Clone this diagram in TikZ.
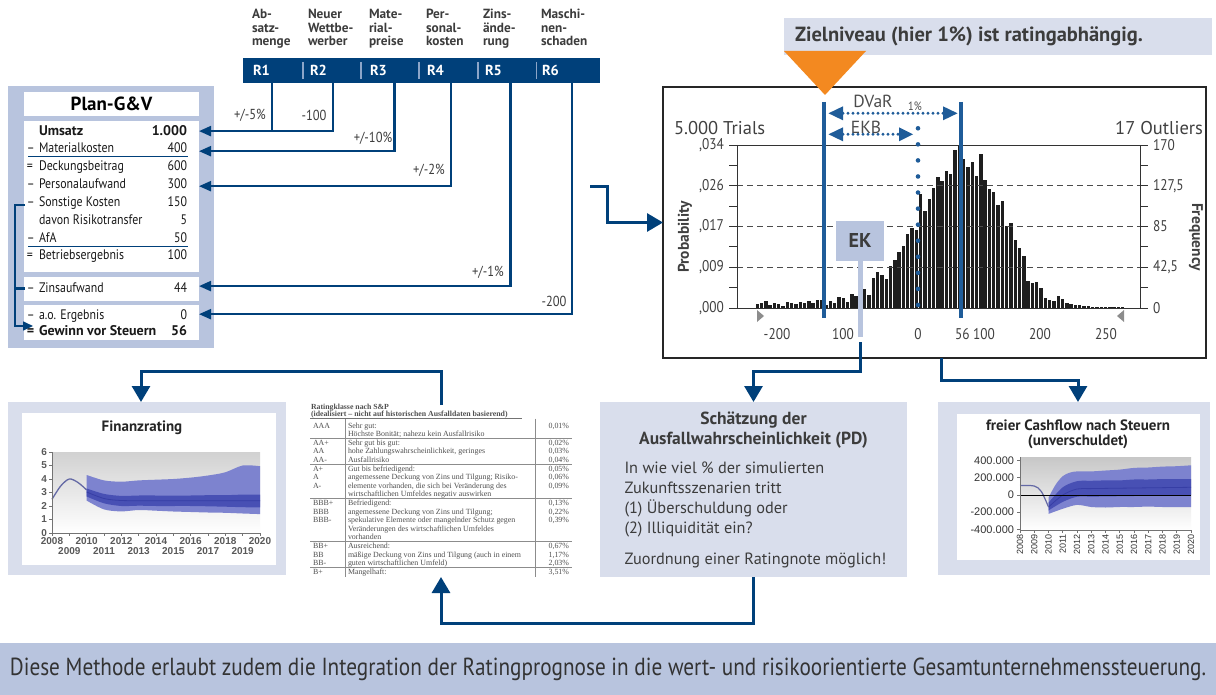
\documentclass[tikz,border=0pt]{standalone}
\usepackage{fontspec}
\setmainfont{PT Sans}
\newfontfamily\cond{PT Sans}[FakeStretch=0.86]
\newfontfamily\serifft{Liberation Serif}
\newfontfamily\arialft{Liberation Sans}
\usetikzlibrary{arrows.meta}
\definecolor{navy}{RGB}{0,64,122}
\definecolor{panelA}{RGB}{184,196,222}
\definecolor{panelB}{RGB}{217,222,236}
\definecolor{orng}{RGB}{243,137,32}
\definecolor{lblue}{RGB}{31,92,153}
\definecolor{txt}{RGB}{60,60,60}
\definecolor{sepc}{RGB}{140,165,200}
\definecolor{bandA}{RGB}{125,131,207}
\definecolor{bandB}{RGB}{72,80,180}
\definecolor{medl}{RGB}{55,62,165}
\definecolor{histbar}{RGB}{30,30,30}
\definecolor{tabtxt}{RGB}{80,80,80}
\newcommand{\fsz}[2]{\fontsize{#1}{#2}\selectfont}
\tikzset{
  pconn/.style={navy, line width=2.2pt, -{Triangle[length=12pt,width=10pt]}},
  plainconn/.style={navy, line width=2.2pt},
  bigconn/.style={navy, line width=3pt, -{Triangle[length=16pt,width=18pt]}},
  toplab/.style={anchor=north west, align=left, font=\bfseries\fsz{13.3}{13.3}, text=txt},
  rlab/.style={anchor=west, font=\bfseries\fsz{14.5}{15}, text=white},
  rowl/.style={anchor=base west, font=\cond\fsz{13.8}{15}, text=black!90},
  rowv/.style={anchor=base east, font=\cond\fsz{13.8}{15}, text=black!90},
  rowp/.style={anchor=base west, font=\cond\fsz{13.8}{15}, text=black!90},
  rowb/.style={font=\bfseries\fsz{14}{15}},
  clab/.style={font=\cond\fsz{14.5}{15}, text=txt},
  axl/.style={font=\cond\fsz{15.5}{16}, text=black!75},
  tabt/.style={anchor=base west, font=\serifft\fsz{7.9}{8}, text=tabtxt},
  tabp/.style={anchor=base east, font=\serifft\fsz{7.9}{8}, text=tabtxt},
  smallax/.style={font=\arialft\fsz{9}{10}, text=black!65},
}
\begin{document}
\begin{tikzpicture}[x=1pt,y=-1pt,every node/.style={inner sep=0pt,outer sep=0pt}]
\useasboundingbox (0,0) rectangle (1216,695);

% ---------------- risk header -----------------
\node[toplab] (lab1) at (252,9.5) {Ab-\\satz-\\menge};
\node[toplab] (lab2) at (308,9.5) {Neuer\\Wettbe-\\werber};
\node[toplab] (lab3) at (369,9.5) {Mate-\\rial-\\preise};
\node[toplab] (lab4) at (426,9.5) {Per-\\sonal-\\kosten};
\node[toplab] (lab5) at (483,9.5) {Zins-\\ände-\\rung};
\node[toplab] (lab6) at (541,9.5) {Maschi-\\nen-\\schaden};

\node[fill=navy, minimum width=357pt, minimum height=25pt, anchor=north west] (bar) at (243,58) {};
\foreach \sx in {303,361,419,478,536.5} \draw[sepc, line width=1.3pt] (\sx,62) -- (\sx,79);
\node[rlab] (rl1) at (253,70) {R1};
\node[rlab] (rl2) at (310,70) {R2};
\node[rlab] (rl3) at (370,70) {R3};
\node[rlab] (rl4) at (427,70) {R4};
\node[rlab] (rl5) at (485,70) {R5};
\node[rlab] (rl6) at (542,70) {R6};

% ---------------- Plan G&V -----------------
\node[fill=panelA, minimum width=206pt, minimum height=262pt, anchor=north west] (plan) at (8,86) {};
\node[fill=white, minimum width=175pt, minimum height=24pt, anchor=north west] (plantitle) at (24,92) {};
\node[font=\bfseries\fsz{19}{20}, text=black] (plantitletxt) at (plantitle.center) {Plan-G\&V};
\node[fill=white, minimum width=175pt, minimum height=151pt, anchor=north west] (main) at (24,121) {};
\node[fill=white, minimum width=175pt, minimum height=24pt, anchor=north west] (zinsbox) at (24,277) {};
\node[fill=white, minimum width=175pt, minimum height=35pt, anchor=north west] (lastbox) at (24,305) {};

\node[rowl, rowb] (umsl) at (39,136) {Umsatz};
\node[rowv, rowb] (umsv) at (187,136) {1.000};
\node[rowp] (matp) at (27,153) {–};
\node[rowl] (matl) at (39,153) {Materialkosten};
\node[rowv] (matv) at (187,153) {400};
\draw[navy, line width=1.2pt] (28,156.7) -- (188,156.7);
\node[rowp] (dbp) at (27,171) {=};
\node[rowl] (dbl) at (39,171) {Deckungsbeitrag};
\node[rowv] (dbv) at (187,171) {600};
\node[rowp] (perp) at (27,189) {–};
\node[rowl] (perl) at (39,189) {Personalaufwand};
\node[rowv] (perv) at (187,189) {300};
\node[rowp] (sonp) at (27,207) {–};
\node[rowl] (sonl) at (39,207) {Sonstige Kosten};
\node[rowv] (sonv) at (187,207) {150};
\node[rowl] (davl) at (39,225) {davon Risikotransfer};
\node[rowv] (davv) at (187,225) {5};
\node[rowp] (afap) at (27,243) {–};
\node[rowl] (afal) at (39,243) {AfA};
\node[rowv] (afav) at (187,243) {50};
\draw[navy, line width=1.2pt] (28,246.7) -- (188,246.7);
\node[rowp] (bep) at (27,260) {=};
\node[rowl] (bel) at (39,260) {Betriebsergebnis};
\node[rowv] (bev) at (187,260) {100};
\node[rowp] (zinp) at (27,293) {–};
\node[rowl] (zinl) at (39,293) {Zinsaufwand};
\node[rowv] (zinv) at (187,293) {44};
\node[rowp] (aop) at (27,319) {–};
\node[rowl] (aol) at (39,319) {a.o. Ergebnis};
\node[rowv] (aov) at (187,319) {0};
\node[rowp, rowb] (gewp) at (27,335) {=};
\node[rowl, rowb] (gewl) at (39,335) {Gewinn vor Steuern};
\node[rowv, rowb] (gewv) at (187,335) {56};

% bracket inside plan
\coordinate (brtop) at (25,205);
\coordinate (brx) at (15,0);
\coordinate (brend) at (33,326);
\draw[navy, line width=1.6pt, -{Triangle[length=10pt,width=9pt]}] (brtop) -- (brx |- brtop) -- (brx |- brend) -- (brend);
\draw[navy, line width=3pt] (brx |- zinl) -- ++(10,0);

% connectors R -> plan
\coordinate (c1) at (272,0);
\coordinate (c2) at (333,0);
\coordinate (c3) at (394.5,0);
\coordinate (c4) at (451,0);
\coordinate (c5) at (510.5,0);
\coordinate (c6) at (572,0);
\draw[plainconn] (bar.south -| c1) -- (c1 |- umsv);
\draw[pconn] (bar.south -| c2) |- (main.east |- umsv);
\draw[pconn] (bar.south -| c3) |- ([yshift=-3pt]main.east |- matv);
\draw[pconn] (bar.south -| c4) |- ([yshift=-2pt]main.east |- perv);
\draw[pconn] (bar.south -| c5) |- ([yshift=2pt]zinsbox.east |- zinv);
\draw[pconn] (bar.south -| c6) |- (lastbox.east |- aov);

\node[clab] (l1) at (250,115) {+/-5\%};
\node[clab] (l2) at (314,115) {-100};
\node[clab] (l3) at (373,138) {+/-10\%};
\node[clab] (l4) at (429,170) {+/-2\%};
\node[clab] (l5) at (488,272.5) {+/-1\%};
\node[clab] (l6) at (554,301) {-200};

% ---------------- Zielniveau -----------------
\node[fill=panelB, minimum width=428pt, minimum height=37pt, anchor=north west] (ziel) at (784,18) {};
\node[anchor=west, font=\bfseries\fsz{20.5}{22}, text=txt] (zieltxt) at (795,36.5) {Zielniveau (hier 1\%) ist ratingabhängig.};

% ---------------- histogram -----------------
\node[draw=black!85, line width=1.8pt, minimum width=543pt, minimum height=271pt, anchor=north west] (hist) at (663,87) {};
\foreach \h [count=\i from 0] in {4,5,7,3,5,4,2,6,5,4,6,5,7,5,8,8,3,7,5,11,10,6,14,12,6,19,13,30,36,33,29,42,48,56,62,74,80,78,114,97,109,120,131,127,137,134,158,163,149,141,146,132,154,128,119,116,103,107,82,85,68,60,52,27,25,26,20,10,8,7,12,9,5,4,3,3,2,2,1,1.5,1,1,1,1,1,1}
  \fill[histbar] ({755.5+4.3*\i},308) rectangle ({758.9+4.3*\i},{308-\h});
\foreach \yy in {185.75,226.5,267.25} \draw[black!70, line width=0.9pt, dash pattern=on 6pt off 4pt] (737,\yy) -- (1140,\yy);
\draw[black!80, line width=0.9pt] (729,145) -- (1148,145);
\draw[black!80, line width=0.9pt] (729,308) -- (1148,308);
\draw[black!80, line width=0.9pt] (737,145) -- (737,308);
\draw[black!80, line width=0.9pt] (1140,145) -- (1140,308);
\foreach \k in {1,...,7} {
  \draw[black!80, line width=0.9pt] (729,{145+20.375*\k}) -- (737,{145+20.375*\k});
  \draw[black!80, line width=0.9pt] (1140,{145+20.375*\k}) -- (1148,{145+20.375*\k});
}
\node[axl, anchor=east] (p1) at (724,145) {,034};
\node[axl, anchor=east] (p2) at (724,185.75) {,026};
\node[axl, anchor=east] (p3) at (724,226.5) {,017};
\node[axl, anchor=east] (p4) at (724,267.25) {,009};
\node[axl, anchor=east] (p5) at (724,308) {,000};
\node[axl, anchor=west] (f1) at (1153,145) {170};
\node[axl, anchor=west] (f2) at (1153,185.75) {127,5};
\node[axl, anchor=west] (f3) at (1153,226.5) {85};
\node[axl, anchor=west] (f4) at (1153,267.25) {42,5};
\node[axl, anchor=west] (f5) at (1153,308) {0};
\node[font=\bfseries\fsz{15.5}{16}, text=black!75, rotate=90] (prob) at (685,237) {Probability};
\node[font=\bfseries\fsz{15.5}{16}, text=black!75, rotate=-90] (freq) at (1196,237) {Frequency};
\node[anchor=west, font=\fsz{18.5}{20}, text=black!75] (trials) at (674,128) {5.000 Trials};
\node[anchor=east, font=\fsz{18.5}{20}, text=black!75] (outl) at (1203,128) {17 Outliers};
\node[axl] (x1) at (777,334) {-200};
\node[axl] (x2) at (843,334) {100};
\node[axl] (x3) at (918,334) {0};
\node[axl] (x4) at (975,334) {56 100};
\node[axl] (x5) at (1040,334) {200};
\node[axl] (x6) at (1106,334) {250};
\fill[black!45] (757,310) -- (757,322) -- (764,316) -- cycle;
\fill[black!45] (1124,310) -- (1124,322) -- (1117,316) -- cycle;

% blue limit lines and arrows
\draw[lblue, line width=4pt] (824,102) -- (824,318);
\draw[lblue, line width=4pt] (960.5,102) -- (960.5,318);
\draw[lblue, line width=3.2pt, line cap=round, dash pattern=on 0pt off 5pt] (843,113.3) -- (945,113.3);
\fill[lblue] (828.5,113.3) -- (843,106.3) -- (843,120.3) -- cycle;
\fill[lblue] (957.5,113.3) -- (943,106.3) -- (943,120.3) -- cycle;
\draw[lblue, line width=3.2pt, line cap=round, dash pattern=on 0pt off 5pt] (843,134.3) -- (900,134.3);
\fill[lblue] (828.5,134.3) -- (843,127.3) -- (843,141.3) -- cycle;
\fill[lblue] (913,134.3) -- (899,127.3) -- (899,141.3) -- cycle;
\draw[lblue, line width=4.6pt, line cap=round, dash pattern=on 0pt off 16.06pt] (918,128.3) -- (918,305);
\node[font=\fsz{17.5}{18}, text=black!70] (dvar) at (873,101) {DVaR};
\node[font=\fsz{17.5}{18}, text=black!70] (ekb) at (866,127.5) {EKB};
\node[font=\cond\fsz{12}{12}, text=black!70] (pct) at (915,106) {1\%};

% EK marker
\node[fill=panelA, minimum width=48pt, minimum height=40pt, font=\bfseries\fsz{20}{20}, text=txt] (ek) at (860,241) {EK};
\draw[panelA, line width=5pt] (ek.south) -- ++(0,76);

% orange triangle (on top of frame)
\fill[orng] (784,51) -- (866,51) -- (825,95) -- cycle;

% ---------------- lower panels -----------------
\node[fill=panelB, minimum width=278pt, minimum height=173pt, anchor=north west] (fin) at (8,402) {};
\node[fill=white, minimum width=254pt, minimum height=152pt, anchor=north west] (fininner) at (22,413) {};
\node[font=\bfseries\fsz{15}{15}, text=black!85] (fintitle) at (142,428) {Finanzrating};
\shade[top color=black!18, bottom color=white] (52,452) rectangle (260,533);
% finanzrating bands
\fill[bandA] plot[smooth] coordinates {(86.7,475) (104,480.4) (121.3,481.7) (138.7,480.4) (156,479.7) (173.3,479) (190.7,477.6) (208,475.5) (225.3,472.3) (242.7,465.5) (260,466.2)}
  -- plot[smooth] coordinates {(260,514.1) (242.7,513.5) (225.3,512.8) (208,512.5) (190.7,512) (173.3,511.5) (156,510.7) (138.7,510) (121.3,511.4) (104,509.4) (86.7,500.6)} -- cycle;
\fill[bandB] plot[smooth] coordinates {(86.7,488.5) (104,493.9) (121.3,495.9) (138.7,495.5) (156,495.5) (173.3,495.5) (190.7,495.5) (208,495.2) (225.3,495.2) (242.7,494.6) (260,494.6)}
  -- plot[smooth] coordinates {(260,507.4) (242.7,507.2) (225.3,506.7) (208,506.3) (190.7,506) (173.3,506) (156,506) (138.7,505.7) (121.3,506) (104,503.3) (86.7,496.5)} -- cycle;
\draw[medl, line width=0.8pt] plot[smooth] coordinates {(86.7,492) (104,498.5) (121.3,500.5) (156,500.8) (208,500.8) (260,500.8)};
\draw[bandA!80!black, line width=1.3pt] plot[smooth] coordinates {(52,499.3) (60.7,486) (69.3,479) (78,482.5) (86.7,490)};
\draw[black!55, line width=0.8pt] (52,452) -- (52,533) -- (260,533);
\foreach \v in {0,...,6} {
  \draw[black!55, line width=0.8pt] (49,{533-13.5*\v}) -- (52,{533-13.5*\v});
  \node[smallax, font=\arialft\bfseries\fsz{10}{10}, anchor=east] (fy\v) at (47,{533-13.5*\v}) {\v};
}
\foreach \t in {0,...,12} \draw[black!55, line width=0.8pt] ({52+17.33*\t},533) -- ({52+17.33*\t},536);
\foreach \t/\yr in {0/2008,2/2010,4/2012,6/2014,8/2016,10/2018,12/2020}
  \node[smallax, font=\arialft\bfseries\fsz{10}{10}] (fx\yr) at ({52+17.33*\t},541.5) {\yr};
\foreach \t/\yr in {1/2009,3/2011,5/2013,7/2015,9/2017,11/2019}
  \node[smallax, font=\arialft\bfseries\fsz{10}{10}] (fx\yr) at ({52+17.33*\t},551.5) {\yr};

% rating table
\node[fill=white, minimum width=262pt, minimum height=172pt, anchor=north west] (tab) at (310,405) {};
\node[tabt, font=\serifft\bfseries\fsz{7.8}{8}] (th1) at (311,409.5) {Ratingklasse nach S\&P};
\node[tabt, font=\serifft\bfseries\fsz{7.8}{8}] (th2) at (311,416) {(idealisiert – nicht auf historischen Ausfalldaten basierend)};
\draw[black!55, line width=0.8pt] (310,418.5) -- (522,418.5);
\foreach \yy in {438.8,464.2,498.6,541.6,567.4} \draw[black!45, line width=0.7pt] (310,\yy) -- (572,\yy);
\draw[black!45, line width=0.7pt] (345,418.5) -- (345,577);
\draw[black!45, line width=0.7pt] (535,418.5) -- (535,577);
\foreach \i/\c/\d/\p in {0/AAA/{Sehr gut:}/{0,01\%},
  1/{}/{Höchste Bonität; nahezu kein Ausfallrisiko}/{},
  2/AA+/{Sehr gut bis gut:}/{0,02\%},
  3/AA/{hohe Zahlungswahrscheinlichkeit, geringes}/{0,03\%},
  4/AA-/{Ausfallrisiko}/{0,04\%},
  5/A+/{Gut bis befriedigend:}/{0,05\%},
  6/A/{angemessene Deckung von Zins und Tilgung; Risiko-}/{0,06\%},
  7/A-/{elemente vorhanden, die sich bei Veränderung des}/{0,09\%},
  8/{}/{wirtschaftlichen Umfeldes negativ auswirken}/{},
  9/BBB+/{Befriedigend:}/{0,13\%},
  10/BBB/{angemessene Deckung von Zins und Tilgung;}/{0,22\%},
  11/BBB-/{spekulative Elemente oder mangelnder Schutz gegen}/{0,39\%},
  12/{}/{Veränderungen des wirtschaftlichen Umfeldes}/{},
  13/{}/{vorhanden}/{},
  14/BB+/{Ausreichend:}/{0,67\%},
  15/BB/{mäßige Deckung von Zins und Tilgung (auch in einem}/{1,17\%},
  16/BB-/{guten wirtschaftlichen Umfeld)}/{2,03\%},
  17/B+/{Mangelhaft:}/{3,51\%}} {
  \node[tabt] (tc\i) at (313,{428+8.6*\i}) {\c};
  \node[tabt] (td\i) at (348,{428+8.6*\i}) {\d};
  \node[tabp] (tp\i) at (569,{428+8.6*\i}) {\p};
}

% PD box
\node[fill=panelB, minimum width=307pt, minimum height=175pt, anchor=north west] (pd) at (600,402) {};
\node[font=\bfseries\fsz{17.5}{20}, text=txt, align=center] (pdtitle) at (753.5,430) {Schätzung der\\Ausfallwahrscheinlichkeit (PD)};
\node[anchor=north west, align=left, font=\fsz{16.3}{20}, text=txt] (pdbody) at (624.5,462) {In wie viel \% der simulierten\\Zukunftsszenarien tritt\\(1) Überschuldung oder\\(2) Illiquidität ein?};
\node[anchor=west, font=\fsz{16.3}{20}, text=txt] (pdlast) at (624.5,560) {Zuordnung einer Ratingnote möglich!};

% cashflow panel
\node[fill=panelB, minimum width=272pt, minimum height=173pt, anchor=north west] (cf) at (938,402) {};
\node[fill=white, minimum width=243pt, minimum height=146pt, anchor=north west] (cfinner) at (957,414) {};
\node[font=\bfseries\fsz{15}{14.7}, text=black!85, align=center] (cftitle) at (1078,434.5) {freier Cashflow nach Steuern\\(unverschuldet)};
\shade[top color=black!22, bottom color=white] (1020,457) rectangle (1191,530);
\fill[bandA] plot[smooth] coordinates {(1048.5,497.6) (1055.6,484.7) (1062.75,476.1) (1069.9,472.6) (1077,471.4) (1091.25,471.4) (1105.5,470.5) (1119.75,469.6) (1134,467.9) (1148.25,467.5) (1162.5,466.6) (1176.75,466.2) (1191,465.3)}
  -- plot[smooth] coordinates {(1191,507) (1176.75,507) (1162.5,507) (1148.25,506.6) (1134,507) (1119.75,507) (1105.5,507.5) (1091.25,507) (1077,504.9) (1062.75,508.8) (1048.5,513.9)} -- cycle;
\fill[bandB] plot[smooth] coordinates {(1048.5,502.7) (1062.75,487.3) (1077,481.2) (1091.25,480.8) (1105.5,480.4) (1119.75,480.4) (1134,479.5) (1148.25,479.5) (1162.5,479.1) (1176.75,479.1) (1191,479.1)}
  -- plot[smooth] coordinates {(1191,495.4) (1176.75,495.4) (1162.5,495.6) (1148.25,495.8) (1134,496) (1119.75,496.2) (1105.5,496.4) (1091.25,496.6) (1077,496.7) (1062.75,501.9) (1048.5,510.5)} -- cycle;
\draw[medl, line width=0.8pt] plot[smooth] coordinates {(1048.5,507) (1062.75,495) (1077,489) (1091.25,488.6) (1134,488) (1191,487.3)};
\draw[bandA!80!black, line width=1.2pt] plot[smooth] coordinates {(1020,485.5) (1034.25,486) (1041.4,491.6) (1048.5,507)};
\draw[black, line width=0.9pt] (1020,495) -- (1191,495);
\draw[black!55, line width=0.8pt] (1020,457) -- (1020,530) -- (1191,530);
\foreach \v/\lab in {400/{400.000},200/{200.000},0/{0},-200/{-200.000},-400/{-400.000}} {
  \draw[black!55, line width=0.8pt] (1017,{495-0.086*\v}) -- (1020,{495-0.086*\v});
  \node[smallax, font=\arialft\fsz{11}{12}, text=black!80, anchor=east] (cy\v) at (1014,{495-0.086*\v}) {\lab};
}
\foreach \t in {0,...,12} {
  \draw[black!55, line width=0.8pt] ({1020+14.25*\t},530) -- ({1020+14.25*\t},533);
  \pgfmathtruncatemacro{\yr}{2008+\t}
  \node[smallax, font=\arialft\fsz{9}{10}, text=black!80, rotate=90, anchor=east] (cx\t) at ({1020+14.25*\t},534) {\yr};
}

% ---------------- lower connectors -----------------
\coordinate (mstart) at (590,187);
\draw[bigconn] (mstart) -- ++(17,0) |- (hist.west);
\coordinate (ekfoot) at (860,342);
\draw[bigconn] (ekfoot) -- ++(0,29) -| (pd.north);
\coordinate (cfstart) at (941,358);
\draw[bigconn] (cfstart) -- ++(0,22) -| ([xshift=4pt]cf.north);
\draw[bigconn] (tab.north) -- ++(0,-34) -| ([xshift=-6pt]fin.north);
\draw[bigconn] (pd.south) -- ++(0,46) -| (tab.south);

% ---------------- footer -----------------
\node[fill=panelA, minimum width=1216pt, minimum height=52pt, anchor=north west] (foot) at (0,643) {};
\node[text=black!80] (foottxt) at (608,669) {\resizebox{1196pt}{!}{\cond\fsz{20}{22}Diese Methode erlaubt zudem die Integration der Ratingprognose in die wert- und risikoorientierte Gesamtunternehmenssteuerung.}};
\end{tikzpicture}
\end{document}
